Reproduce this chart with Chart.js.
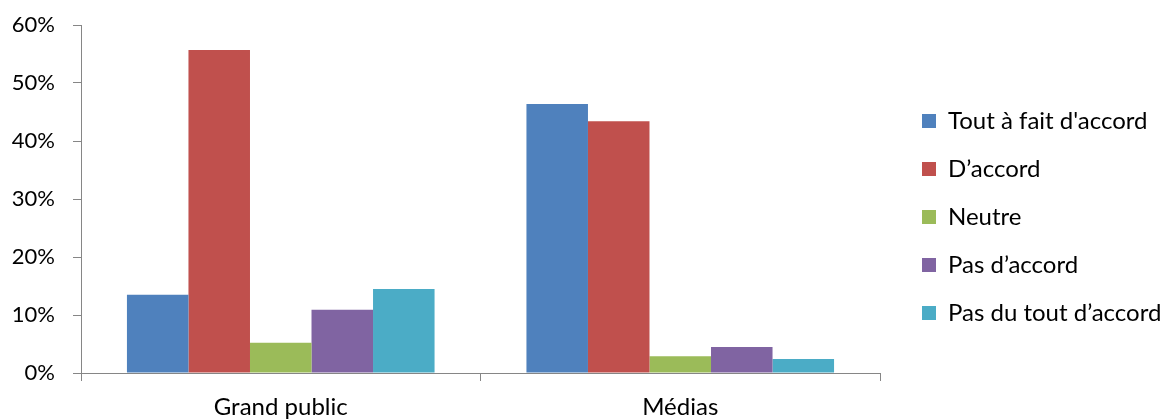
<!DOCTYPE html>
<html>
<head>
<meta charset="utf-8">
<script src="https://cdn.jsdelivr.net/npm/chart.js@4"></script>
<style>
    body { margin: 0; background: #fff; }
    #wrap { width: 1167px; height: 419px; position: relative; }
</style>
</head>
<body>
<div id="wrap"><canvas id="graphique"></canvas></div>
<script>
// données (en %)
const categories = ['Grand public', 'Médias'];
const seriesNames = ["Tout à fait d'accord", 'D’accord', 'Neutre', 'Pas d’accord', 'Pas du tout d’accord'];
const toutAFait = [13.5, 46.4];
const dAccord = [55.7, 43.4];
const neutre = [5.2, 2.9];
const pasDAccord = [10.9, 4.5];
const pasDuTout = [14.5, 2.4];
const yTicks = [0, 10, 20, 30, 40, 50, 60];

const couleurs = ['#4F81BD', '#C0504D', '#9BBB59', '#8064A2', '#4BACC6'];
const series = [toutAFait, dAccord, neutre, pasDAccord, pasDuTout];

Chart.defaults.font.family = 'Lato';
Chart.defaults.font.size = 22;
Chart.defaults.color = '#000';

const axisColor = '#868686';

new Chart(document.getElementById('graphique'), {
    type: 'bar',
    data: {
        labels: categories,
        datasets: series.map((s, i) => ({
            label: seriesNames[i],
            data: s,
            backgroundColor: couleurs[i],
            borderWidth: 0,
            categoryPercentage: 0.77,
            barPercentage: 1.0
        }))
    },
    options: {
        responsive: true,
        maintainAspectRatio: false,
        animation: false,
        layout: { padding: { left: 12, top: 15, right: 0, bottom: 0 } },
        plugins: {
            tooltip: { enabled: false },
            legend: {
                position: 'right',
                align: 'center',
                maxWidth: 269,
                labels: {
                    boxWidth: 14,
                    boxHeight: 14,
                    padding: 24,
                    font: { size: 24 }
                }
            }
        },
        scales: {
            x: {
                grid: {
                    drawOnChartArea: false,
                    drawTicks: true,
                    tickLength: 8,
                    color: axisColor
                },
                border: { color: axisColor },
                ticks: { padding: 14, font: { size: 24, lineHeight: 1 } },
                afterFit: axis => {
                    axis.paddingLeft = 0;
                    axis.paddingRight = 0;
                    axis.height = 46;
                }
            },
            y: {
                min: 0,
                max: 60,
                afterBuildTicks: axis => { axis.ticks = yTicks.map(v => ({ value: v })); },
                grid: {
                    drawOnChartArea: false,
                    drawTicks: true,
                    tickLength: 8,
                    color: axisColor
                },
                border: { color: axisColor },
                ticks: {
                    padding: 18,
                    callback: v => v + '%'
                },
                afterFit: axis => {
                    axis.width = 69;
                    axis.paddingTop = 25;
                    axis.paddingBottom = 0;
                }
            },
            // axe vide pour laisser un espace avant la légende
            espace: {
                type: 'linear',
                position: 'right',
                display: true,
                grid: { display: false },
                border: { display: false },
                ticks: { display: false },
                afterFit: axis => { axis.width = 18; }
            }
        }
    }
});
</script>
</body>
</html>
